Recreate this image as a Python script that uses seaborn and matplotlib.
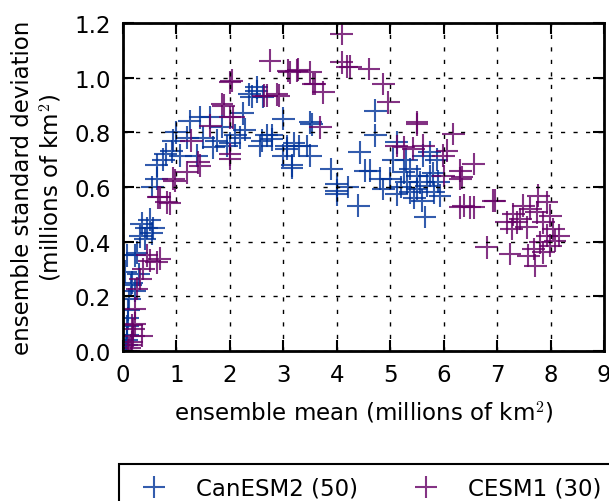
import numpy as np
import pandas as pd
import matplotlib
matplotlib.use("Agg")
import matplotlib.pyplot as plt
from matplotlib.lines import Line2D
import seaborn as sns

# ensemble mean / ensemble std of sea ice extent (millions of km^2)
canesm2_mean = [0.05, 0.06, 0.07, 0.08, 0.08, 0.09, 0.10, 0.12, 0.14, 0.04,
                0.07, 0.16, 0.22, 0.29, 0.22, 0.26, 0.32, 0.35, 0.44, 0.54,
                0.41, 0.50, 0.57, 0.55, 0.63, 0.63, 0.75, 0.80, 0.91, 0.94,
                1.00, 1.07, 1.20, 1.25, 1.44, 1.50, 1.63, 1.38, 1.69, 1.75,
                1.85, 1.94, 2.00, 2.10, 2.19, 2.24, 2.28, 2.36, 2.50, 2.62,
                2.50, 2.41, 2.56, 2.60, 2.69, 2.78, 2.78, 3.00, 3.00, 3.06,
                3.06, 3.16, 3.16, 3.20, 3.30, 3.44, 3.50, 3.50, 3.53, 3.90,
                4.00, 4.00, 4.00, 4.20, 4.40, 4.72, 4.72, 4.43, 4.53, 4.62,
                5.12, 5.00, 5.25, 5.37, 5.50, 5.62, 5.74, 5.87, 5.68, 5.81,
                5.65, 4.87, 5.12, 5.37, 5.50, 4.81, 5.31, 5.56, 5.74, 5.93,
                5.20, 5.45, 5.60, 5.90, 5.80, 5.05, 5.30]
canesm2_std = [0.000, 0.020, 0.040, 0.060, 0.090, 0.120, 0.150, 0.190, 0.240, 0.290,
               0.350, 0.250, 0.220, 0.280, 0.350, 0.360, 0.420, 0.465, 0.450, 0.430,
               0.410, 0.480, 0.450, 0.600, 0.630, 0.680, 0.700, 0.720, 0.730, 0.770,
               0.800, 0.715, 0.780, 0.840, 0.855, 0.780, 0.855, 0.715, 0.745, 0.770,
               0.820, 0.750, 0.760, 0.790, 0.780, 0.870, 0.810, 0.940, 0.950, 0.930,
               0.965, 0.930, 0.750, 0.770, 0.790, 0.775, 0.790, 0.850, 0.715, 0.740,
               0.750, 0.680, 0.670, 0.760, 0.750, 0.750, 0.715, 0.837, 0.830, 0.666,
               0.610, 0.574, 0.586, 0.600, 0.532, 0.880, 0.790, 0.727, 0.660, 0.660,
               0.764, 0.630, 0.654, 0.666, 0.640, 0.715, 0.727, 0.700, 0.605, 0.580,
               0.490, 0.593, 0.574, 0.580, 0.593, 0.630, 0.617, 0.617, 0.640, 0.568,
               0.600, 0.560, 0.550, 0.620, 0.650, 0.700, 0.700]

cesm1_mean = [0.10, 0.12, 0.14, 0.16, 0.19, 0.35, 0.19, 0.16, 0.22, 0.22,
              0.26, 0.32, 0.38, 0.50, 0.63, 0.69, 0.45, 0.66, 0.82, 0.88,
              0.69, 0.94, 0.97, 1.19, 1.28, 1.41, 1.44, 1.63, 1.85, 1.88,
              2.00, 2.03, 2.00, 2.06, 2.00, 2.00, 2.63, 2.69, 2.75, 2.88,
              2.91, 3.09, 3.12, 3.25, 3.28, 3.50, 3.56, 3.59, 3.75, 3.69,
              4.09, 4.09, 4.19, 4.25, 4.60, 4.87, 4.96, 5.50, 5.50, 6.18,
              5.12, 5.25, 5.43, 5.62, 5.99, 6.06, 6.56, 6.34, 6.31, 6.31,
              6.00, 6.49, 6.31, 6.56, 6.37, 6.96, 6.93, 6.80, 7.24, 7.77,
              7.62, 7.30, 7.18, 7.27, 7.43, 7.55, 7.74, 7.86, 7.99, 8.05,
              8.15, 7.93, 7.80, 7.71, 7.58, 7.86, 7.99, 7.68, 7.93, 7.49,
              7.37, 8.08]
cesm1_std = [0.000, 0.010, 0.020, 0.032, 0.056, 0.056, 0.080, 0.093, 0.100, 0.154,
             0.227, 0.263, 0.300, 0.330, 0.325, 0.337, 0.350, 0.562, 0.544, 0.540,
             0.563, 0.630, 0.623, 0.654, 0.770, 0.690, 0.678, 0.824, 0.904, 0.898,
             0.983, 0.989, 0.855, 0.855, 0.720, 0.703, 0.934, 0.934, 1.062, 0.940,
             0.934, 1.026, 1.020, 1.026, 1.030, 1.020, 0.977, 0.977, 0.947, 0.818,
             1.160, 1.056, 1.040, 1.040, 1.032, 0.977, 0.910, 0.830, 0.837, 0.794,
             0.750, 0.745, 0.740, 0.751, 0.715, 0.733, 0.684, 0.635, 0.660, 0.630,
             0.640, 0.526, 0.526, 0.526, 0.532, 0.550, 0.550, 0.379, 0.355, 0.568,
             0.520, 0.500, 0.471, 0.446, 0.483, 0.452, 0.507, 0.471, 0.495, 0.446,
             0.422, 0.422, 0.398, 0.312, 0.349, 0.361, 0.385, 0.373, 0.544, 0.532,
             0.471, 0.404]

labels = ["CanESM2 (50)", "CESM1 (30)"]
colors = ["#003399", "#660066"]

df = pd.concat([
    pd.DataFrame({"mean": canesm2_mean, "std": canesm2_std, "model": labels[0]}),
    pd.DataFrame({"mean": cesm1_mean, "std": cesm1_std, "model": labels[1]}),
], ignore_index=True)

plt.rcParams["font.family"] = ["DejaVu Sans"]
plt.rcParams["mathtext.fontset"] = "cm"
fs = 16.5

fig = plt.figure(figsize=(6.09, 5.02), dpi=100)
ax = fig.add_axes([0.202, 0.299, 0.790, 0.653])

sns.scatterplot(data=df, x="mean", y="std", hue="model",
                palette=dict(zip(labels, colors)), marker="+", s=270,
                linewidth=1.5, alpha=0.8, legend=False, ax=ax)

ax.set_xlim(0, 9)
ax.set_ylim(0, 1.2)
ax.set_xticks(range(10))
ax.set_yticks(np.arange(0, 1.21, 0.2))
ax.set_xlabel("ensemble mean (millions of km$^2$)", fontsize=fs, labelpad=9)
ax.set_ylabel("ensemble standard deviation\n(millions of km$^2$)", fontsize=fs,
              labelpad=7)
ax.grid(True, color="black", linestyle=(0, (3, 6)), linewidth=1.0)
ax.tick_params(direction="in", top=True, right=True, length=8, width=1.5,
               labelsize=fs, pad=9)
for sp in ax.spines.values():
    sp.set_linewidth(2)

handles = [Line2D([], [], marker="+", linestyle="", color=c, markersize=16.5,
                  markeredgewidth=1.5, alpha=0.8) for c in colors]
leg = fig.legend(handles, labels, loc="upper left", bbox_to_anchor=(0.195, 0.073),
                 ncol=2, frameon=True, fancybox=False, edgecolor="black",
                 framealpha=1, borderaxespad=0, fontsize=fs, handletextpad=0.8,
                 columnspacing=2.0, handlelength=2.0, borderpad=0.55)
leg.get_frame().set_linewidth(1.5)

plt.savefig("out.png", dpi=100)
